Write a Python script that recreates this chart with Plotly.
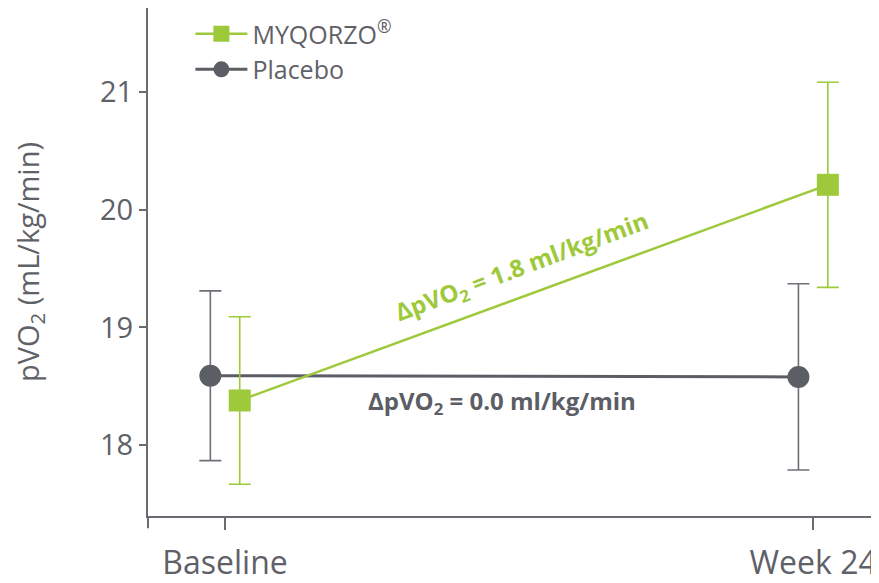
import plotly.graph_objects as go

timepoints = ["Baseline", "Week 24"]
placebo_mean = [18.59, 18.58]
placebo_err = [0.72, 0.79]
myqorzo_mean = [18.38, 20.21]
myqorzo_err = [0.71, 0.87]
y_ticks = [18, 19, 20, 21]

GREEN = "#9dc93a"
DARK = "#5c5e66"
ERRGREY = "#6e7077"
AXIS = "#6a6b70"
TEXT = "#5f6168"
FONT = "Open Sans"

fig = go.Figure()
fig.add_trace(go.Scatter(
    x=timepoints, y=placebo_mean, name="Placebo", mode="lines+markers",
    line=dict(color=DARK, width=3),
    marker=dict(symbol="circle", size=22, color=DARK),
    error_y=dict(type="data", array=placebo_err, color=ERRGREY, thickness=1.6, width=11),
))
fig.add_trace(go.Scatter(
    x=timepoints, y=myqorzo_mean, name="MYQORZO<sup>®</sup>", mode="lines+markers",
    line=dict(color=GREEN, width=2.5),
    marker=dict(symbol="square", size=22, color=GREEN),
    error_y=dict(type="data", array=myqorzo_err, color=GREEN, thickness=1.6, width=11),
))

fig.add_annotation(
    xref="paper", yref="paper", x=0.512, y=0.49,
    text="ΔpVO<sub>2</sub> = 1.8 ml/kg/min", showarrow=False, textangle=-20.5,
    font=dict(family=FONT, size=24, color=GREEN, weight="bold"),
)
fig.add_annotation(
    xref="paper", yref="paper", x=0.484, y=0.186,
    text="ΔpVO<sub>2</sub> = 0.0 ml/kg/min", showarrow=False,
    font=dict(family=FONT, size=24, color=DARK, weight="bold"),
)
# y-axis line extension below x-axis
fig.add_shape(type="line", xref="paper", yref="paper", x0=0, x1=0, y0=0, y1=-0.024,
              line=dict(color=AXIS, width=2))

fig.update_layout(
    width=871, height=575,
    margin=dict(l=140, r=0, t=0, b=65),
    paper_bgcolor="white", plot_bgcolor="white",
    scattermode="group", scattergap=0.9,
    font=dict(family=FONT, color=TEXT),
    showlegend=True,
    legend=dict(x=0.058, y=0.994, xanchor="left", yanchor="top", traceorder="reversed",
                font=dict(family=FONT, size=25, color=TEXT), bgcolor="rgba(0,0,0,0)",
                itemwidth=52, tracegroupgap=0),
    xaxis=dict(
        type="category", range=[-0.131, 1.112],
        showline=True, linecolor=AXIS, linewidth=2,
        ticks="outside", ticklen=12, tickwidth=2, tickcolor=AXIS,
        ticklabelstandoff=6,
        tickfont=dict(family=FONT, size=32, color=TEXT),
        showgrid=False, zeroline=False,
    ),
    yaxis=dict(
        range=[17.40, 21.71], tickvals=y_ticks,
        showline=True, linecolor=AXIS, linewidth=2,
        ticks="outside", ticklen=7, tickwidth=2, tickcolor=AXIS,
        tickfont=dict(family=FONT, size=29, color=TEXT),
        title=dict(text="pVO<sub>2</sub> (mL/kg/min)", font=dict(family=FONT, size=29, color=TEXT), standoff=58),
        showgrid=False, zeroline=False,
    ),
)

fig.write_html("out.html")
